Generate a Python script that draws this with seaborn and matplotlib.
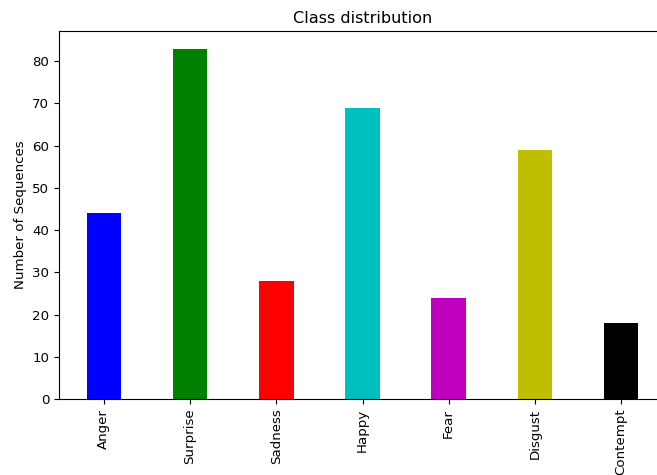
import matplotlib
matplotlib.use("Agg")
import matplotlib.pyplot as plt
import pandas as pd
import seaborn as sns

classes = ["Anger", "Surprise", "Sadness", "Happy", "Fear", "Disgust", "Contempt"]
counts = [44, 83, 28, 69, 24, 59, 18]
bar_colors = ["b", "g", "r", "c", "m", "y", "k"]

df = pd.DataFrame({"emotion": classes, "count": counts})

fig = plt.figure(figsize=(6.57, 4.75), dpi=100)
ax = fig.add_axes([59 / 657, 76 / 475, 607 / 657, 368 / 475])

sns.barplot(data=df, x="emotion", y="count", hue="emotion",
            palette=dict(zip(classes, bar_colors)), width=0.4,
            saturation=1, linewidth=0, legend=False, ax=ax)

ax.set_xlim(-0.52, 6.52)
ax.set_ylim(0, 87.15)
ax.set_xlabel("")
ax.set_ylabel("Number of Sequences", fontsize=9.6)
ax.set_title("Class distribution", fontsize=11.6)
ax.tick_params(axis="both", labelsize=9.6)
ax.tick_params(axis="x", labelrotation=90)

fig.savefig("out.png", dpi=100)
